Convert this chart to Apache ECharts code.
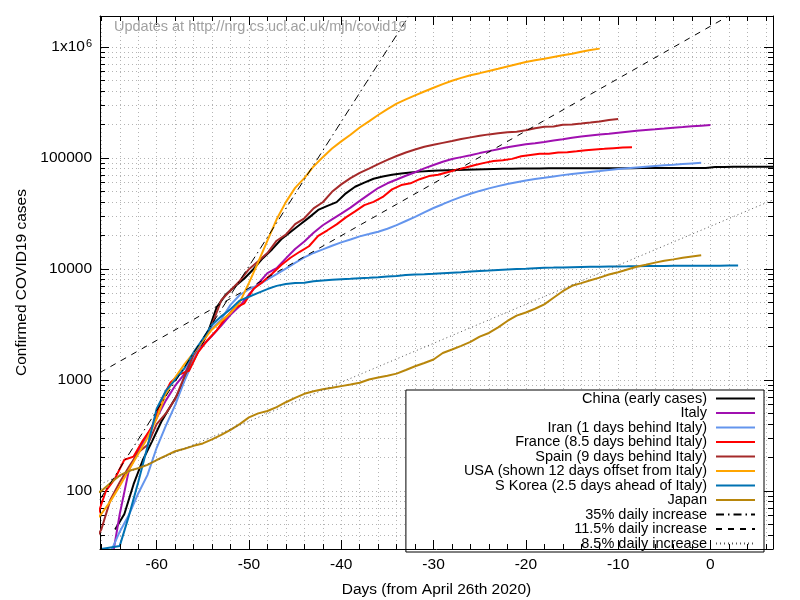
<!DOCTYPE html>
<html>
<head>
<meta charset="utf-8">
<script src="https://cdn.jsdelivr.net/npm/echarts@6/dist/echarts.min.js"></script>
<style>
html, body { margin: 0; padding: 0; background: #fff; }
#chart { width: 800px; height: 600px; }
</style>
</head>
<body>
<div id="chart"></div>
<script>
// days are counted from April 26th 2020; each series starts at its own (shifted) day
var chinaStart = -64.5;
var chinaCases = [45, 62, 115, 190, 280, 420, 580, 800, 1250, 1800,
  2600, 4500, 5900, 7000, 8200, 10000, 12500, 15000, 18500, 21500,
  25000, 29000, 34000, 37000, 40000, 48000, 55000, 60000, 65000, 68000,
  70500, 72500, 74000, 75300, 76300, 77000, 77500, 78000, 78400, 78800,
  79200, 79600, 79900, 80100, 80300, 80400, 80500, 80600, 80700, 80700,
  80800, 80800, 80800, 80900, 80900, 80900, 80900, 81000, 81000, 81000,
  81100, 81100, 81100, 81200, 81300, 82800, 83000, 83100, 83100, 83100,
  83200, 83200, 83200];

var italyStart = -65;
var italyCases = [20, 62, 155, 229, 322, 453, 655, 888, 1128,
  1694, 2036, 2502, 3089, 3858, 4636, 5883, 7375, 9172, 10149,
  12462, 15113, 17660, 21157, 24747, 27980, 31506, 35713, 41035, 47021,
  53578, 59138, 63927, 69176, 74386, 80589, 86498, 92472, 97689, 101739, 105792,
  110574, 115242, 119827, 124632, 128948, 132547, 135586, 139422, 143626, 147577,
  152271, 156363, 159516, 162488, 165155, 168941, 172434, 175925, 178972, 181228,
  183957, 187327, 189973, 192994, 195351, 197675];

var iranStart = -66;
var iranCases = [18, 28, 43, 61, 95, 139, 245, 388, 593,
  978, 1501, 2336, 2922, 3513, 4747, 5823, 6566, 7161, 8042,
  9000, 10075, 11364, 12729, 13938, 14991, 16169, 17361, 18407, 19644,
  20610, 21638, 23049, 24811, 27017, 29406, 32332, 35408, 38309, 41495, 44605,
  47593, 50468, 53183, 55743, 58226, 60500, 62589, 64586, 66220, 68192,
  70029, 71686, 73303, 74877, 76389, 77995, 79494, 80868, 82211, 83505,
  84802, 85996, 87026, 88194, 89328, 90481];

var franceStart = -66.5;
var franceCases = [57, 100,
  130, 191, 204, 285, 377, 653, 949, 1126, 1209, 1784,
  2281, 2800, 3661, 4469, 4900, 6633, 7652, 9043, 10871, 12612,
  14282, 16018, 19856, 22304, 25233, 29155, 32964, 37575, 40174, 44550, 52128,
  56989, 59105, 64338, 68605, 70478, 74390, 78167, 82048, 86334, 90276,
  93790, 95403, 98076, 103573, 106206, 108847, 109252, 111821, 112606, 114657,
  117324, 119151, 120804, 122577, 124114, 124575];

var spainStart = -67;
var spainCases = [32, 45,
  84, 120, 165, 222, 259, 400, 500, 673, 1073, 1695,
  2277, 3146, 5232, 6391, 7798, 9942, 11748, 13910, 17963, 20410,
  25374, 28603, 35136, 39885, 49515, 57786, 65719, 73235, 80110, 87956, 95923,
  104118, 112065, 119199, 126168, 131646, 136675, 141942, 148220, 153222, 158273,
  163027, 166831, 170099, 172541, 177644, 184948, 190839, 191726, 198674, 200210,
  204178, 208389, 213024, 219764, 223759];

var usaStart = -67;
var usaCases = [50, 62, 81, 111, 155, 215, 300, 450, 750, 1050,
  1380, 1750, 2250, 2850, 3400, 4000, 5000, 7500, 11500, 18000,
  28000, 40000, 53740, 65778, 83836, 101657, 121465, 140909, 161831, 188172,
  213242, 243622, 275367, 308650, 336802, 366317, 397121, 428654, 462780, 496535,
  526396, 555313, 580619, 607670, 636350, 667801, 699706, 732197, 759086, 784326,
  811865, 840351, 869170, 905358, 938154, 965785];

var koreaStart = -66;
var koreaCases = [30, 31, 32, 60, 120, 250, 550, 800, 1000, 1270,
  1770, 2340, 3150, 3740, 4340, 5190, 5620, 6090, 6590, 7040,
  7310, 7480, 7510, 7760, 7870, 7980, 8090, 8160, 8240, 8320,
  8410, 8570, 8650, 8800, 8900, 8960, 9040, 9140, 9240, 9330,
  9480, 9580, 9660, 9790, 9890, 9980, 10060, 10160, 10240, 10280,
  10330, 10380, 10420, 10450, 10480, 10510, 10540, 10560, 10590, 10610,
  10640, 10650, 10660, 10670, 10680, 10690, 10700, 10710, 10720, 10730];

var japanStart = -67;
var japanCases = [90, 100, 118, 138, 152, 160, 172, 190, 208, 228,
  240, 255, 268, 292, 320, 355, 400, 460, 500, 525,
  570, 630, 690, 750, 790, 825, 850, 880, 910, 945,
  1010, 1050, 1090, 1140, 1230, 1330, 1420, 1530, 1750, 1880,
  2030, 2200, 2460, 2650, 2980, 3400, 3800, 4050, 4380, 4800,
  5500, 6300, 7050, 7450, 7900, 8350, 8900, 9350, 9900, 10450,
  10900, 11400, 11850, 12200, 12600, 12950, 13300];

// reference growth lines, end points
var rate35Days = [-66.14, -32.7];
var rate35Cases = [84, 1890000];
var rate115Days = [-66.14, 1.96];
var rate115Cases = [1166, 1900000];
var rate85Days = [-66.14, 6.78];
var rate85Cases = [115, 41900];

var xMajorTicks = [-60, -50, -40, -30, -20, -10, 0];
var xMinorTicks = [-66, -64, -62, -60, -58, -56, -54, -52, -50, -48, -46, -44, -42,
  -40, -38, -36, -34, -32, -30, -28, -26, -24, -22, -20, -18, -16, -14, -12,
  -10, -8, -6, -4, -2, 0, 2, 4, 6];
var yMajorTicks = [100, 1000, 10000, 100000, 1000000];
var yDecades = [10, 100, 1000, 10000, 100000, 1000000];
var yMinorSteps = [1, 2, 3, 4, 5, 6, 7, 8, 9];

var xMin = -66.14, xMax = 6.78;
var yMin = 30, yMax = 1900000;

var yMinorTicks = [];
yDecades.forEach(function (d) {
  yMinorSteps.forEach(function (s) {
    var v = d * s;
    if (v >= yMin && v <= yMax) yMinorTicks.push(v);
  });
});

function fromStart(start, vals) {
  return vals.map(function (v, i) { return [start + i, v]; });
}
function fromPairs(days, vals) {
  return days.map(function (d, i) { return [d, vals[i]]; });
}

var FONT = '"Liberation Sans", Helvetica, Arial, sans-serif';
var gridColor = '#b4b4b4';

function lineSeries(name, color, data, dash, width) {
  return {
    name: name,
    type: 'line',
    data: data,
    symbol: 'none',
    showSymbol: false,
    silent: true,
    clip: true,
    lineStyle: { color: color, width: width || 2, type: dash || 'solid' },
    itemStyle: { color: color },
    emphasis: { disabled: true }
  };
}

var names = [
  'China (early cases)',
  'Italy',
  'Iran (1 days behind Italy)',
  'France (8.5 days behind Italy)',
  'Spain (9 days behind Italy)',
  'USA (shown 12 days offset from Italy)',
  'S Korea (2.5 days ahead of Italy)',
  'Japan',
  '35% daily increase',
  '11.5% daily increase',
  '8.5% daily increase'
];

var series = [
  lineSeries(names[0], '#000000', fromStart(chinaStart, chinaCases)),
  lineSeries(names[1], '#a010b0', fromStart(italyStart, italyCases)),
  lineSeries(names[2], '#6495ed', fromStart(iranStart, iranCases)),
  lineSeries(names[3], '#ff0000', fromStart(franceStart, franceCases)),
  lineSeries(names[4], '#a52a2a', fromStart(spainStart, spainCases)),
  lineSeries(names[5], '#ffa500', fromStart(usaStart, usaCases)),
  lineSeries(names[6], '#0072b2', fromStart(koreaStart, koreaCases)),
  lineSeries(names[7], '#b8860b', fromStart(japanStart, japanCases)),
  lineSeries(names[8], '#000000', fromPairs(rate35Days, rate35Cases), [8, 4, 1.5, 4], 1),
  lineSeries(names[9], '#000000', fromPairs(rate115Days, rate115Cases), [6, 6], 1),
  lineSeries(names[10], '#555555', fromPairs(rate85Days, rate85Cases), [1, 3], 1)
];

var black = { color: '#000', width: 1 };
function xAxisCfg(pos, ticks, len, extra) {
  var a = {
    type: 'value', min: xMin, max: xMax, position: pos,
    axisLine: { show: false, onZero: false, lineStyle: black },
    axisTick: { show: true, inside: true, length: len, customValues: ticks, lineStyle: black },
    axisLabel: { show: false },
    splitLine: { show: false },
    minorTick: { show: false }
  };
  return Object.assign(a, extra || {});
}
function yAxisCfg(pos, ticks, len, extra) {
  var a = {
    type: 'log', logBase: 10, min: yMin, max: yMax, position: pos,
    axisLine: { show: false, onZero: false, lineStyle: black },
    axisTick: { show: true, inside: true, length: len, customValues: ticks, lineStyle: black },
    axisLabel: { show: false },
    splitLine: { show: false },
    minorTick: { show: false }
  };
  return Object.assign(a, extra || {});
}

var frameLine = { show: true, onZero: false, lineStyle: black };
var gridLine = { show: true, lineStyle: { color: gridColor, width: 1, type: [1, 3] } };

var option = {
  animation: false,
  backgroundColor: '#ffffff',
  textStyle: { fontFamily: FONT },
  title: {
    text: 'Updates at http://nrg.cs.ucl.ac.uk/mjh/covid19',
    left: 114, top: 19, padding: 0,
    textStyle: { color: '#a0a0a0', fontSize: 14.5, fontWeight: 'normal', fontFamily: FONT }
  },
  grid: { left: 100, right: 27, top: 16, bottom: 51, containLabel: false, outerBoundsMode: 'none' },
  legend: {
    data: names,
    orient: 'vertical',
    align: 'right',
    right: 36, top: 390,
    itemWidth: 39, itemHeight: 13.9, itemGap: -0.5,
    padding: [1, 8, 1, 58],
    backgroundColor: '#ffffff',
    borderColor: '#000000', borderWidth: 1, borderRadius: 0,
    selectedMode: false,
    itemStyle: { opacity: 0, borderWidth: 0 },
    textStyle: { fontSize: 14.5, color: '#000', fontFamily: FONT, lineHeight: 13.9, padding: [0, 4, 0, 0] }
  },
  xAxis: [
    xAxisCfg('bottom', xMajorTicks, 9, {
      z: 5,
      axisLine: frameLine,
      axisLabel: { show: true, customValues: xMajorTicks, margin: 8, fontSize: 15.5, color: '#000', fontFamily: FONT },
      name: 'Days (from April 26th 2020)', nameLocation: 'middle', nameGap: 33,
      nameTextStyle: { fontSize: 15.5, color: '#000', fontFamily: FONT }
    }),
    xAxisCfg('bottom', xMinorTicks, 5, { z: 5 }),
    xAxisCfg('top', xMajorTicks, 9, { axisLine: frameLine }),
    xAxisCfg('top', xMinorTicks, 5, { splitLine: gridLine })
  ],
  yAxis: [
    yAxisCfg('left', yMajorTicks, 9, {
      axisLine: frameLine,
      axisLabel: {
        show: true, customValues: yMajorTicks, margin: 8, fontSize: 15.5, color: '#000', fontFamily: FONT,
        formatter: function (v) {
          return v >= 1000000 ? '{m|1x10}{e|6}' : String(Math.round(v));
        },
        rich: {
          m: { fontSize: 15.5, color: '#000', fontFamily: FONT },
          e: { fontSize: 11, color: '#000', fontFamily: FONT, verticalAlign: 'top', padding: [0, 0, 0, 1] }
        }
      },
      name: 'Confirmed COVID19 cases', nameLocation: 'middle', nameRotate: 90, nameGap: 58,
      nameTextStyle: { fontSize: 15.5, color: '#000', fontFamily: FONT }
    }),
    yAxisCfg('left', yMinorTicks, 5, { splitLine: gridLine }),
    yAxisCfg('right', yMajorTicks, 9, { axisLine: frameLine }),
    yAxisCfg('right', yMinorTicks, 5)
  ],
  series: series
};

var chart = echarts.init(document.getElementById('chart'), null, { renderer: 'canvas' });
chart.setOption(option);
</script>
</body>
</html>
